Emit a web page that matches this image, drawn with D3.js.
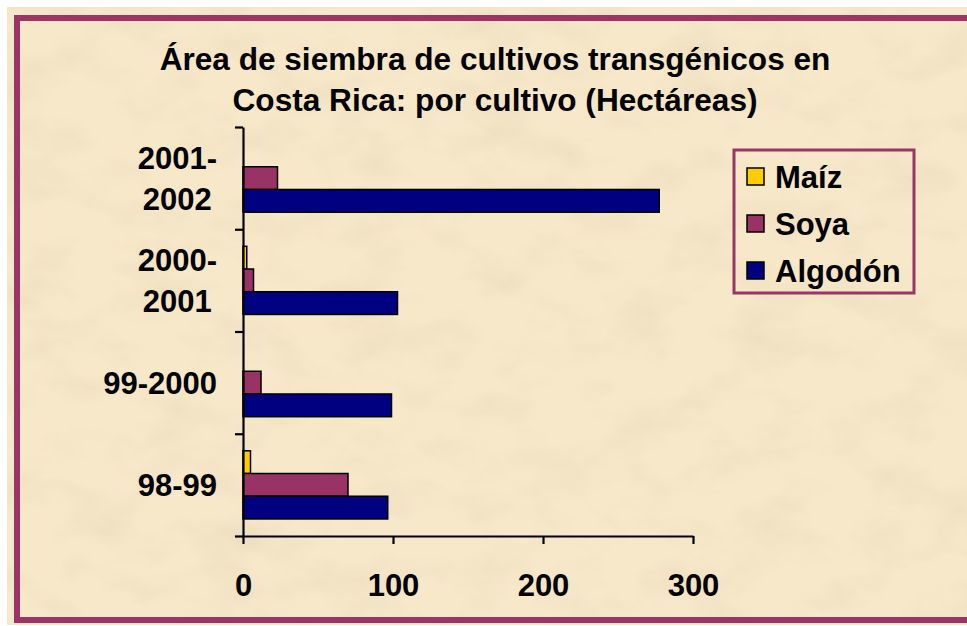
<!DOCTYPE html>
<html>
<head>
<meta charset="utf-8">
<script src="https://cdn.jsdelivr.net/npm/d3@7/dist/d3.min.js"></script>
<style>
  html, body { margin: 0; padding: 0; background: #ffffff; }
  svg { display: block; }
  text { font-family: "Liberation Sans", Arial, sans-serif; font-weight: bold; fill: #000; }
</style>
</head>
<body>
<svg id="chart" width="967" height="626"></svg>
<script>
// ---- data ----
const categories = ["98-99", "99-2000", "2000-2001", "2001-2002"];
const categoryLabels = [["98-99"], ["99-2000"], ["2000-", "2001"], ["2001-", "2002"]];
const seriesNames = ["Maíz", "Soya", "Algodón"];
const maiz = [5, 0, 2.5, 0];
const soya = [70, 12, 7, 23];
const algodon = [96.5, 99, 103, 277.5];
const xTicks = [0, 100, 200, 300];
const titleLines = ["Área de siembra de cultivos transgénicos en", "Costa Rica: por cultivo (Hectáreas)"];

const seriesColors = ["#FFCC00", "#993366", "#000080"];
const seriesValues = [maiz, soya, algodon];

const svg = d3.select("#chart");
const W = 967, H = 626;

// ---- parchment background ----
const defs = svg.append("defs");
const f = defs.append("filter").attr("id", "parch").attr("x", 0).attr("y", 0).attr("width", 1).attr("height", 1);
f.append("feTurbulence").attr("type", "fractalNoise").attr("baseFrequency", "0.015 0.025").attr("numOctaves", 4).attr("seed", 7).attr("result", "noise");
f.append("feColorMatrix").attr("in", "noise").attr("type", "matrix")
  .attr("values", "0 0 0 0 0.82  0 0 0 0 0.70  0 0 0 0 0.50  1.3 0 0 0 -0.55").attr("result", "blot");
f.append("feComposite").attr("in", "blot").attr("in2", "SourceGraphic").attr("operator", "over");

svg.append("rect").attr("x", 7).attr("y", 7).attr("width", W - 7).attr("height", H - 8)
  .attr("fill", "#f6e8c9").attr("filter", "url(#parch)");

// frame
svg.append("rect").attr("x", 17).attr("y", 18).attr("width", W + 20).attr("height", 602)
  .attr("fill", "none").attr("stroke", "#9b3467").attr("stroke-width", 6);

// ---- title ----
svg.append("g").selectAll("text").data(titleLines).join("text")
  .attr("x", 495).attr("y", (d, i) => 70 + i * 41)
  .attr("text-anchor", "middle").attr("font-size", 31.6)
  .text(d => d);

// ---- scales ----
const plotTop = 127, plotBottom = 536, plotLeft = 243, plotRight = 693;
const x = d3.scaleLinear().domain([0, 300]).range([plotLeft, plotRight]);
const y = d3.scaleBand().domain(categories.slice().reverse()).range([plotTop, plotBottom]).paddingInner(0).paddingOuter(0);
const ySub = d3.scaleBand().domain(seriesNames).range([0, y.bandwidth()]).paddingInner(0).paddingOuter(0.75);
const yTickScale = d3.scaleLinear().domain([0, categories.length]).range([plotBottom, plotTop]);

// ---- bars ----
const rows = [];
categories.forEach((c, ci) => {
  seriesNames.forEach((s, si) => {
    const v = seriesValues[si][ci];
    if (v > 0) rows.push({ cat: c, series: s, value: v, color: seriesColors[si] });
  });
});
svg.append("g").selectAll("rect").data(rows).join("rect")
  .attr("x", x(0))
  .attr("y", d => y(d.cat) + ySub(d.series))
  .attr("width", d => x(d.value) - x(0))
  .attr("height", ySub.bandwidth())
  .attr("fill", d => d.color)
  .attr("stroke", "#000").attr("stroke-width", 1.5);

// ---- axes ----
const yAxis = svg.append("g").attr("transform", `translate(${plotLeft},0)`)
  .call(d3.axisLeft(yTickScale).tickValues(d3.range(categories.length + 1)).tickFormat("").tickSize(8).tickSizeOuter(0));
yAxis.select(".domain").attr("stroke", "#000").attr("stroke-width", 2.2);
yAxis.selectAll(".tick line").attr("stroke", "#000").attr("stroke-width", 2.2);

const xAxis = svg.append("g").attr("transform", `translate(0,${plotBottom})`)
  .call(d3.axisBottom(x).tickValues(xTicks).tickFormat(d3.format("d")).tickSize(8).tickSizeOuter(0));
xAxis.select(".domain").attr("stroke", "#000").attr("stroke-width", 2.2);
xAxis.selectAll(".tick line").attr("stroke", "#000").attr("stroke-width", 2.2);
xAxis.selectAll(".tick text").attr("y", 60).attr("dy", 0)
  .attr("font-size", 31).attr("font-family", "'Liberation Sans', Arial, sans-serif").attr("font-weight", "bold").attr("fill", "#000");
xAxis.attr("font-size", null).attr("font-family", null);

// ---- category labels ----
const labelRight = 217;
const lg = svg.append("g");
categories.forEach((c, ci) => {
  const lines = categoryLabels[ci];
  const cy = y(c) + y.bandwidth() / 2;
  const g = lg.append("g");
  const texts = g.selectAll("text").data(lines).join("text")
    .attr("font-size", 31)
    .attr("text-anchor", "middle")
    .attr("y", (d, i) => cy + 11 + (i - (lines.length - 1) / 2) * 41)
    .text(d => d);
  let maxW = 0;
  texts.each(function () { maxW = Math.max(maxW, this.getComputedTextLength()); });
  texts.attr("x", labelRight - maxW / 2);
});

// ---- legend ----
const legend = svg.append("g");
legend.append("rect").attr("x", 734).attr("y", 150).attr("width", 180).attr("height", 143)
  .attr("fill", "none").attr("stroke", "#9b3467").attr("stroke-width", 3);
const li = legend.selectAll("g.item").data(seriesNames).join("g").attr("class", "item")
  .attr("transform", (d, i) => `translate(0,${i * 47})`);
li.append("rect").attr("x", 747).attr("y", 168).attr("width", 17).attr("height", 17)
  .attr("fill", (d, i) => seriesColors[i]).attr("stroke", "#000").attr("stroke-width", 1.5);
li.append("text").attr("x", 775).attr("y", 188).attr("font-size", 31).text(d => d);
</script>
</body>
</html>
